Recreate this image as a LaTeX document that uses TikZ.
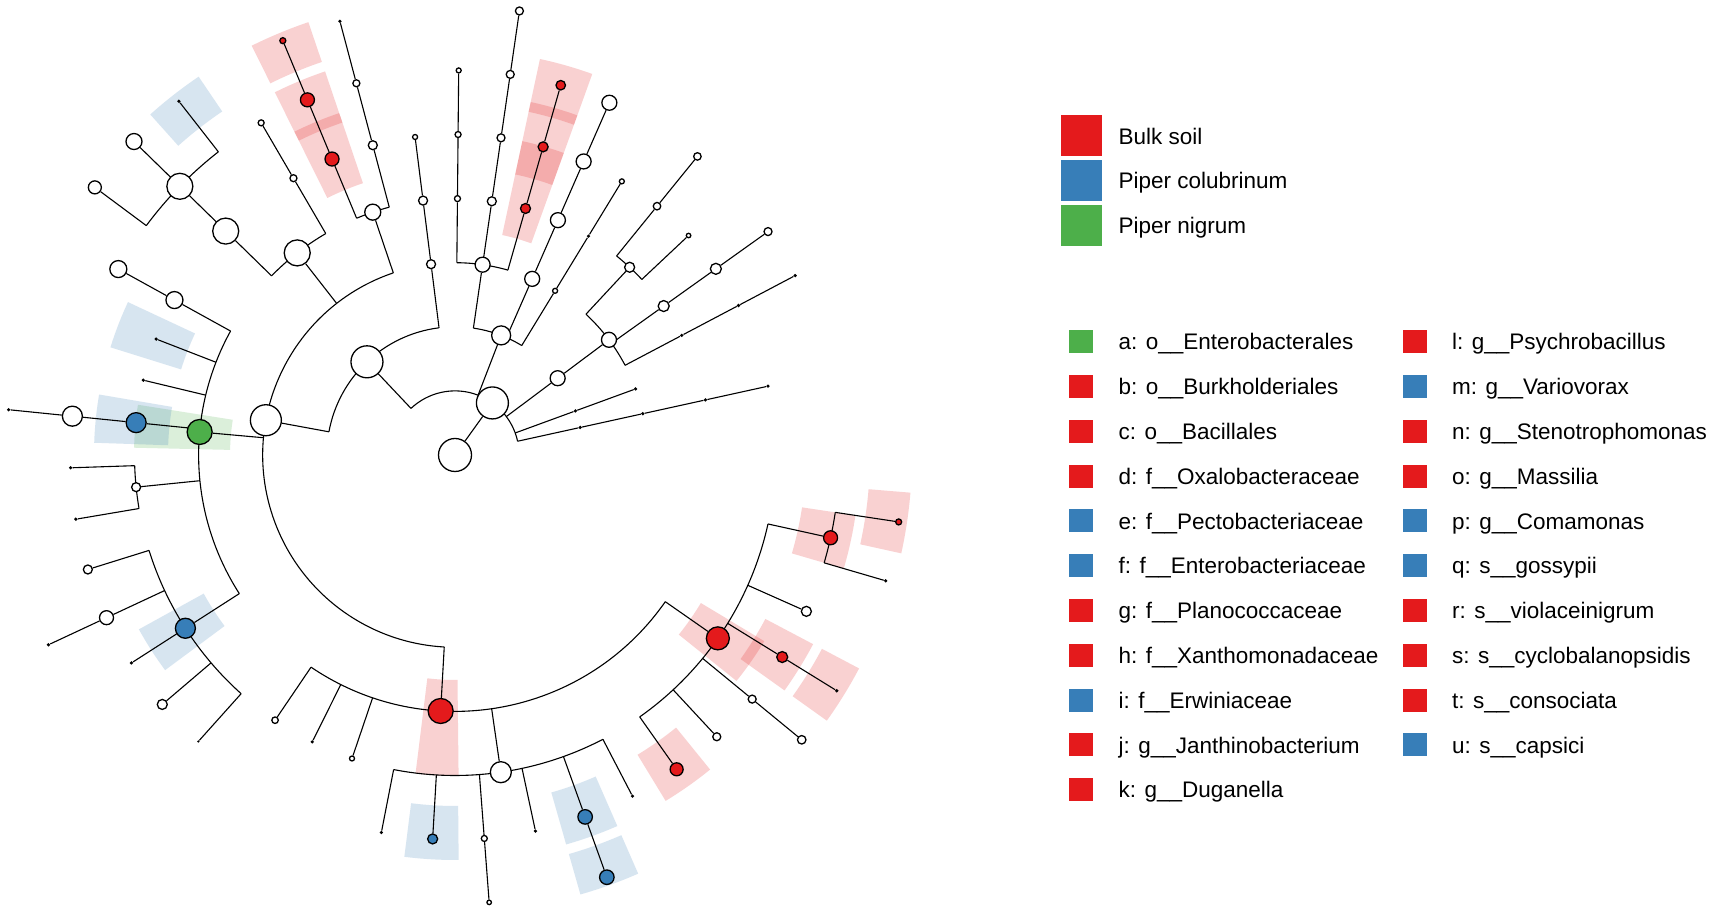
\documentclass[tikz,border=0pt]{standalone}
\usepackage{fontspec}
\setmainfont{Liberation Sans}
\definecolor{cred}{RGB}{228,26,28}
\definecolor{cblue}{RGB}{55,126,184}
\definecolor{cgreen}{RGB}{77,175,74}
\pgfdeclarelayer{boxlayer}
\pgfdeclarelayer{edgelayer}
\pgfsetlayers{boxlayer,edgelayer,main}
\tikzset{
  wn/.style={circle,draw=black,line width=1.3pt,fill=white,inner sep=0pt,minimum size=#1},
  rn/.style={wn=#1,fill=cred},
  bn/.style={wn=#1,fill=cblue},
  gn/.style={wn=#1,fill=cgreen},
  td/.style={circle,fill=black,inner sep=0pt,minimum size=3.6pt},
  treeline/.style={line width=1.1pt,draw=black},
  bigsq/.style={fill=#1,inner sep=0pt,minimum width=41pt,minimum height=41pt},
  smsq/.style={fill=#1,inner sep=0pt,minimum width=24pt,minimum height=23pt},
  legtxt/.style={anchor=base west,inner sep=0pt,font=\fontsize{22.5pt}{27pt}\selectfont},
}
\newcommand{\cladebox}[4]{%
  \fill[#1,opacity=0.2] ({#2-3.85}:#3) arc[start angle={#2-3.85},end angle={#2+3.85},radius=#3]
    -- ({#2+3.85}:#4) arc[start angle={#2+3.85},end angle={#2-3.85},radius=#4] -- cycle;}
\begin{document}
\begin{tikzpicture}[x=1pt,y=1pt]
\useasboundingbox (0,0) rectangle (1713,913);
\begin{pgfonlayer}{boxlayer}
\fill[white] (0,0) rectangle (1713,913);
\end{pgfonlayer}
\begin{scope}[shift={(455,458)}]
% ---------------- nodes ----------------
\node[wn=33pt] (R1) at (0,0) {};
\node[wn=32pt] (R2) at (54.3:64.1) {};
\node[td] (k0a) at (12.4:128.2) {};
\node[td] (k0b) at (12.4:192.3) {};
\node[td] (k0c) at (12.4:256.4) {};
\node[td] (k0d) at (12.4:320.5) {};
\node[td] (k1a) at (20.105:128.2) {};
\node[td] (k1b) at (20.105:192.3) {};
\node[wn=15pt] (P3) at (36.8:128.2) {};
\node[wn=15pt] (C3) at (36.8:192.3) {};
\node[td] (k2a) at (27.81:256.4) {};
\node[td] (k2b) at (27.81:320.5) {};
\node[td] (k2c) at (27.81:384.6) {};
\node[wn=11pt] (k3a) at (35.515:256.4) {};
\node[wn=11pt] (k3b) at (35.515:320.5) {};
\node[wn=8pt] (k3c) at (35.515:384.6) {};
\node[wn=10pt] (O4) at (47.07:256.4) {};
\node[wn=4.5pt] (k4a) at (43.22:320.5) {};
\node[wn=7.5pt] (k5a) at (50.925:320.5) {};
\node[wn=7.5pt] (k5b) at (50.925:384.6) {};
\node[wn=19pt] (P2) at (68.9:128.2) {};
\node[wn=5pt] (k6a) at (58.63:192.3) {};
\node[td] (k6b) at (58.63:256.4) {};
\node[wn=5pt] (k6c) at (58.63:320.5) {};
\node[wn=15pt] (k7a) at (66.335:192.3) {};
\node[wn=15pt] (k7b) at (66.335:256.4) {};
\node[wn=15pt] (k7c) at (66.335:320.5) {};
\node[wn=15pt] (k7d) at (66.335:384.6) {};
\node[wn=15pt] (CN) at (81.745:192.3) {};
\node[rn=10pt] (k8a) at (74.04:256.4) {};
\node[rn=10pt] (k8b) at (74.04:320.5) {};
\node[rn=9.5pt] (k8c) at (74.04:384.6) {};
\node[wn=9pt] (k9a) at (81.745:256.4) {};
\node[wn=8pt] (k9b) at (81.745:320.5) {};
\node[wn=8pt] (k9c) at (81.745:384.6) {};
\node[wn=8pt] (k9d) at (81.745:448.7) {};
\node[wn=6pt] (k10a) at (89.45:256.4) {};
\node[wn=6pt] (k10b) at (89.45:320.5) {};
\node[wn=5pt] (k10c) at (89.45:384.6) {};
\node[wn=32pt] (B1) at (133.37:128.2) {};
\node[wn=9pt] (k11a) at (97.155:192.3) {};
\node[wn=9pt] (k11b) at (97.155:256.4) {};
\node[wn=5pt] (k11c) at (97.155:320.5) {};
\node[wn=31pt] (B2) at (169.58:192.3) {};
\node[wn=16pt] (O1) at (108.71:256.4) {};
\node[wn=9pt] (k12a) at (104.86:320.5) {};
\node[wn=7pt] (k12b) at (104.86:384.6) {};
\node[td] (k12c) at (104.86:448.7) {};
\node[rn=14pt] (k13a) at (112.565:320.5) {};
\node[rn=14pt] (k13b) at (112.565:384.6) {};
\node[rn=6pt] (k13c) at (112.565:448.7) {};
\node[wn=26pt] (B5) at (127.98:256.4) {};
\node[wn=7pt] (k14a) at (120.27:320.5) {};
\node[wn=6pt] (k14b) at (120.27:384.6) {};
\node[wn=26pt] (B3) at (135.68:320.5) {};
\node[wn=26pt] (B4) at (135.68:384.6) {};
\node[td] (k15) at (127.975:448.7) {};
\node[wn=16pt] (k16) at (135.68:448.7) {};
\node[wn=13pt] (k17) at (143.385:448.7) {};
\node[gn=25pt] (A) at (174.85:256.4) {};
\node[wn=17pt] (k18a) at (151.09:320.5) {};
\node[wn=17pt] (k18b) at (151.09:384.6) {};
\node[td] (k19) at (158.795:320.5) {};
\node[td] (k20) at (166.5:320.5) {};
\node[bn=20pt] (k21a) at (174.205:320.5) {};
\node[wn=20pt] (k21b) at (174.205:384.6) {};
\node[td] (k21c) at (174.205:448.7) {};
\node[wn=9pt] (F186) at (185.76:320.5) {};
\node[td] (k22) at (181.91:384.6) {};
\node[td] (k23) at (189.615:384.6) {};
\node[bn=20pt] (Fb) at (212.73:320.5) {};
\node[wn=9pt] (k24) at (197.32:384.6) {};
\node[wn=14pt] (k25a) at (205.025:384.6) {};
\node[td] (k25b) at (205.025:448.7) {};
\node[td] (k26) at (212.73:384.6) {};
\node[wn=10pt] (k27) at (220.435:384.6) {};
\node[td,minimum size=2.5pt] (k28) at (228.14:384.6) {};
\node[rn=25pt] (C) at (266.79:256.4) {};
\node[wn=6.5pt] (k29) at (235.845:320.5) {};
\node[td] (k30) at (243.55:320.5) {};
\node[wn=5pt] (k31) at (251.255:320.5) {};
\node[wn=21pt] (Wf) at (278.22:320.5) {};
\node[td] (k32) at (258.96:384.6) {};
\node[bn=10pt] (k33) at (266.665:384.6) {};
\node[wn=6pt] (k34a) at (274.37:384.6) {};
\node[wn=4.5pt] (k34b) at (274.37:448.7) {};
\node[td] (k35) at (282.075:384.6) {};
\node[bn=14.5pt] (k36a) at (289.78:384.6) {};
\node[bn=14.5pt] (k36b) at (289.78:448.7) {};
\node[td] (k37) at (297.485:384.6) {};
\node[rn=23pt] (Rg) at (325.1:320.5) {};
\node[rn=13pt] (k38) at (305.19:384.6) {};
\node[wn=8pt] (k39) at (312.895:384.6) {};
\node[wn=8pt] (k40a) at (320.6:384.6) {};
\node[wn=8.5pt] (k40b) at (320.6:448.7) {};
\node[rn=11pt] (k41a) at (328.305:384.6) {};
\node[td] (k41b) at (328.305:448.7) {};
\node[wn=10pt] (k42) at (336.01:384.6) {};
\node[rn=14pt] (Rh) at (347.57:384.6) {};
\node[td] (k43) at (343.715:448.7) {};
\node[rn=6pt] (k44) at (351.42:448.7) {};
% ---------------- edges ----------------
\begin{pgfonlayer}{edgelayer}
\draw[treeline] (R1) -- (R2);
\draw[treeline] (12.4:64.1) arc[start angle=12.4,end angle=133.37,radius=64.1];
\draw[treeline] (12.4:64.1) -- (k0a) -- (k0b) -- (k0c) -- (k0d);
\draw[treeline] (20.105:64.1) -- (k1a) -- (k1b);
\draw[treeline] (36.8:64.1) -- (P3) -- (C3);
\draw[treeline] (68.9:64.1) -- (P2);
\draw[treeline] (133.37:64.1) -- (B1);
\draw[treeline] (27.81:192.3) arc[start angle=27.81,end angle=47.07,radius=192.3];
\draw[treeline] (27.81:192.3) -- (k2a) -- (k2b) -- (k2c);
\draw[treeline] (35.515:192.3) -- (k3a) -- (k3b) -- (k3c);
\draw[treeline] (47.07:192.3) -- (O4);
\draw[treeline] (43.22:256.4) arc[start angle=43.22,end angle=50.925,radius=256.4];
\draw[treeline] (43.22:256.4) -- (k4a);
\draw[treeline] (50.925:256.4) -- (k5a) -- (k5b);
\draw[treeline] (58.63:128.2) arc[start angle=58.63,end angle=81.745,radius=128.2];
\draw[treeline] (58.63:128.2) -- (k6a) -- (k6b) -- (k6c);
\draw[treeline] (66.335:128.2) -- (k7a) -- (k7b) -- (k7c) -- (k7d);
\draw[treeline] (81.745:128.2) -- (CN);
\draw[treeline] (74.04:192.3) arc[start angle=74.04,end angle=89.45,radius=192.3];
\draw[treeline] (74.04:192.3) -- (k8a) -- (k8b) -- (k8c);
\draw[treeline] (81.745:192.3) -- (k9a) -- (k9b) -- (k9c) -- (k9d);
\draw[treeline] (89.45:192.3) -- (k10a) -- (k10b) -- (k10c);
\draw[treeline] (97.155:128.2) arc[start angle=97.155,end angle=169.58,radius=128.2];
\draw[treeline] (97.155:128.2) -- (k11a) -- (k11b) -- (k11c);
\draw[treeline] (169.58:128.2) -- (B2);
\draw[treeline] (108.71:192.3) arc[start angle=108.71,end angle=266.79,radius=192.3];
\draw[treeline] (108.71:192.3) -- (O1);
\draw[treeline] (127.98:192.3) -- (B5);
\draw[treeline] (174.85:192.3) -- (A);
\draw[treeline] (266.79:192.3) -- (C);
\draw[treeline] (104.86:256.4) arc[start angle=104.86,end angle=112.565,radius=256.4];
\draw[treeline] (104.86:256.4) -- (k12a) -- (k12b) -- (k12c);
\draw[treeline] (112.565:256.4) -- (k13a) -- (k13b) -- (k13c);
\draw[treeline] (120.27:256.4) arc[start angle=120.27,end angle=135.68,radius=256.4];
\draw[treeline] (120.27:256.4) -- (k14a) -- (k14b);
\draw[treeline] (135.68:256.4) -- (B3) -- (B4);
\draw[treeline] (127.975:384.6) arc[start angle=127.975,end angle=143.385,radius=384.6];
\draw[treeline] (127.975:384.6) -- (k15);
\draw[treeline] (135.68:384.6) -- (k16);
\draw[treeline] (143.385:384.6) -- (k17);
\draw[treeline] (151.09:256.4) arc[start angle=151.09,end angle=212.73,radius=256.4];
\draw[treeline] (151.09:256.4) -- (k18a) -- (k18b);
\draw[treeline] (158.795:256.4) -- (k19);
\draw[treeline] (166.5:256.4) -- (k20);
\draw[treeline] (174.205:256.4) -- (k21a) -- (k21b) -- (k21c);
\draw[treeline] (185.76:256.4) -- (F186);
\draw[treeline] (212.73:256.4) -- (Fb);
\draw[treeline] (181.91:320.5) arc[start angle=181.91,end angle=189.615,radius=320.5];
\draw[treeline] (181.91:320.5) -- (k22);
\draw[treeline] (189.615:320.5) -- (k23);
\draw[treeline] (197.32:320.5) arc[start angle=197.32,end angle=228.14,radius=320.5];
\draw[treeline] (197.32:320.5) -- (k24);
\draw[treeline] (205.025:320.5) -- (k25a) -- (k25b);
\draw[treeline] (212.73:320.5) -- (k26);
\draw[treeline] (220.435:320.5) -- (k27);
\draw[treeline] (228.14:320.5) -- (k28);
\draw[treeline] (235.845:256.4) arc[start angle=235.845,end angle=325.1,radius=256.4];
\draw[treeline] (235.845:256.4) -- (k29);
\draw[treeline] (243.55:256.4) -- (k30);
\draw[treeline] (251.255:256.4) -- (k31);
\draw[treeline] (278.22:256.4) -- (Wf);
\draw[treeline] (325.1:256.4) -- (Rg);
\draw[treeline] (258.96:320.5) arc[start angle=258.96,end angle=297.485,radius=320.5];
\draw[treeline] (258.96:320.5) -- (k32);
\draw[treeline] (266.665:320.5) -- (k33);
\draw[treeline] (274.37:320.5) -- (k34a) -- (k34b);
\draw[treeline] (282.075:320.5) -- (k35);
\draw[treeline] (289.78:320.5) -- (k36a) -- (k36b);
\draw[treeline] (297.485:320.5) -- (k37);
\draw[treeline] (305.19:320.5) arc[start angle=305.19,end angle=347.57,radius=320.5];
\draw[treeline] (305.19:320.5) -- (k38);
\draw[treeline] (312.895:320.5) -- (k39);
\draw[treeline] (320.6:320.5) -- (k40a) -- (k40b);
\draw[treeline] (328.305:320.5) -- (k41a) -- (k41b);
\draw[treeline] (336.01:320.5) -- (k42);
\draw[treeline] (347.57:320.5) -- (Rh);
\draw[treeline] (343.715:384.6) arc[start angle=343.715,end angle=351.42,radius=384.6];
\draw[treeline] (343.715:384.6) -- (k43);
\draw[treeline] (351.42:384.6) -- (k44);
\end{pgfonlayer}
% ---------------- clade highlights ----------------
\begin{pgfonlayer}{boxlayer}
\cladebox{cgreen}{174.85}{225}{321}
\cladebox{cblue}{127.975}{415}{457}
\cladebox{cblue}{158.795}{287}{361}
\cladebox{cblue}{174.205}{287}{361}
\cladebox{cblue}{212.73}{287}{361}
\cladebox{cblue}{266.665}{351}{405}
\cladebox{cblue}{289.78}{351}{405}
\cladebox{cblue}{289.78}{415}{457}
\cladebox{cred}{112.565}{287}{361}
\cladebox{cred}{112.565}{351}{405}
\cladebox{cred}{112.565}{415}{457}
\cladebox{cred}{74.04}{225}{321}
\cladebox{cred}{74.04}{287}{361}
\cladebox{cred}{74.04}{351}{405}
\cladebox{cred}{266.79}{225}{321}
\cladebox{cred}{325.1}{287}{361}
\cladebox{cred}{305.19}{351}{405}
\cladebox{cred}{328.305}{351}{405}
\cladebox{cred}{328.305}{415}{457}
\cladebox{cred}{347.57}{351}{405}
\cladebox{cred}{351.42}{415}{457}
\end{pgfonlayer}
\end{scope}
% ---------------- legend ----------------
\node[bigsq=cred] (lb1) at (1081,777.3) {};
\node[legtxt] (lt1) at (1118.5,768.9) {Bulk soil};
\node[bigsq=cblue] (lb2) at (1081,732.6) {};
\node[legtxt] (lt2) at (1118.5,724.2) {Piper colubrinum};
\node[bigsq=cgreen] (lb3) at (1081,687.9) {};
\node[legtxt] (lt3) at (1118.5,679.5) {Piper nigrum};
\foreach \i/\col/\txt in {0/cgreen/{a: o\_\_Enterobacterales},1/cred/{b: o\_\_Burkholderiales},2/cred/{c: o\_\_Bacillales},3/cred/{d: f\_\_Oxalobacteraceae},4/cblue/{e: f\_\_Pectobacteriaceae},5/cblue/{f: f\_\_Enterobacteriaceae},6/cred/{g: f\_\_Planococcaceae},7/cred/{h: f\_\_Xanthomonadaceae},8/cblue/{i: f\_\_Erwiniaceae},9/cred/{j: g\_\_Janthinobacterium},10/cred/{k: g\_\_Duganella}}{
  \node[smsq=\col] (la\i) at (1081.2,{571.3-44.8*\i}) {};
  \node[legtxt] (lta\i) at (1118.5,{563-44.8*\i}) {\txt};
}
\foreach \i/\col/\txt in {0/cred/{l: g\_\_Psychrobacillus},1/cblue/{m: g\_\_Variovorax},2/cred/{n: g\_\_Stenotrophomonas},3/cred/{o: g\_\_Massilia},4/cblue/{p: g\_\_Comamonas},5/cblue/{q: s\_\_gossypii},6/cred/{r: s\_\_violaceinigrum},7/cred/{s: s\_\_cyclobalanopsidis},8/cred/{t: s\_\_consociata},9/cblue/{u: s\_\_capsici}}{
  \node[smsq=\col] (lr\i) at (1415.3,{571.3-44.8*\i}) {};
  \node[legtxt] (ltr\i) at (1452,{563-44.8*\i}) {\txt};
}
\end{tikzpicture}
\end{document}
